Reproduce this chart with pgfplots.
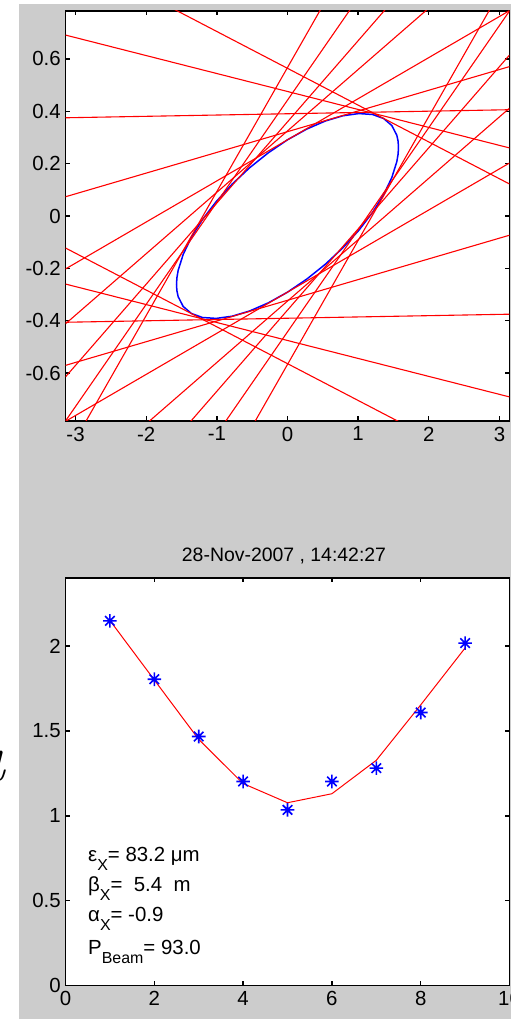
\documentclass[border=0pt]{standalone}
\usepackage{pgfplots}
\pgfplotsset{compat=1.18}
\usepackage{fontspec}
\setsansfont{Liberation Sans}
\renewcommand{\familydefault}{\sfdefault}
\definecolor{figgray}{gray}{0.8}
\definecolor{mred}{rgb}{1,0,0}
\definecolor{mblue}{rgb}{0,0,1}

% eight-spoke asterisk marker
\pgfdeclareplotmark{mstar}{%
  \pgfpathmoveto{\pgfqpoint{-\pgfplotmarksize}{0pt}}%
  \pgfpathlineto{\pgfqpoint{\pgfplotmarksize}{0pt}}%
  \pgfpathmoveto{\pgfqpoint{0pt}{-\pgfplotmarksize}}%
  \pgfpathlineto{\pgfqpoint{0pt}{\pgfplotmarksize}}%
  \pgfpathmoveto{\pgfqpoint{-0.7\pgfplotmarksize}{-0.7\pgfplotmarksize}}%
  \pgfpathlineto{\pgfqpoint{0.7\pgfplotmarksize}{0.7\pgfplotmarksize}}%
  \pgfpathmoveto{\pgfqpoint{-0.7\pgfplotmarksize}{0.7\pgfplotmarksize}}%
  \pgfpathlineto{\pgfqpoint{0.7\pgfplotmarksize}{-0.7\pgfplotmarksize}}%
  \pgfusepathqstroke}

\newcommand{\sub}[1]{\raisebox{-9bp}{\fontsize{16}{16}\selectfont #1}}

\pgfplotsset{
  matfig/.style={
    scale only axis, width=444bp,
    axis background/.style={fill=white},
    axis line style={black, line width=1.4bp},
    tick align=inside,
    xticklabel pos=lower, yticklabel pos=left,
    xtick pos=both, ytick pos=both,
    major tick length=4.5bp,
    every tick/.style={black, line width=1.4bp},
    tick label style={font=\fontsize{20.5}{24}\selectfont, black},
    yticklabel style={xshift=-1.2bp},
    xticklabel style={yshift=-2.3bp},
  },
  ray/.style={mred, line width=1.1bp},
}

\begin{document}
\begin{tikzpicture}
\begin{scope}
\clip (0,0) rectangle (511bp,1019bp);
\fill[white] (0,0) rectangle (511bp,1019bp);
\fill[figgray] (19bp,0) rectangle (511bp,1015bp);
\node[anchor=base east, inner sep=0] at (6bp,238bp)
  {\fontsize{70}{70}\selectfont\rmfamily\itshape a};

% phase-space plot: beam ellipse and measurement lines
\begin{axis}[matfig, at={(65.5bp,598bp)}, anchor=south west, height=410bp,
  xmin=-3.1424, xmax=3.1424, ymin=-0.783, ymax=0.783,
  xtick={-3,-2,-1,0,1,2,3}, xticklabels={-3,-2,-1,0,1,2,3},
  ytick={-0.6,-0.4,-0.2,0,0.2,0.4,0.6},
  yticklabels={-0.6,-0.4,-0.2,0,0.2,0.4,0.6}]
\addplot[mblue, line width=1.5bp] coordinates {
 (1.5712,0.2619) (1.5652,0.2355) (1.5473,0.2074) (1.4764,0.1466) (1.3607,0.0813)
 (1.2036,0.0136) (1.0100,-0.0546) (0.7856,-0.1211) (0.5374,-0.1839) (0.2728,-0.2411)
 (0,-0.2910) (-0.2728,-0.3320) (-0.5374,-0.3630) (-0.7856,-0.3829) (-1.0100,-0.3912)
 (-1.2036,-0.3877) (-1.3607,-0.3723) (-1.4764,-0.3456) (-1.5473,-0.3084) (-1.5652,-0.2862)
 (-1.5712,-0.2619) (-1.5652,-0.2355) (-1.5473,-0.2074) (-1.4764,-0.1466) (-1.3607,-0.0813)
 (-1.2036,-0.0136) (-1.0100,0.0546) (-0.7856,0.1211) (-0.5374,0.1839) (-0.2728,0.2411)
 (0,0.2910) (0.2728,0.3320) (0.5374,0.3630) (0.7856,0.3829) (1.0100,0.3912)
 (1.2036,0.3877) (1.3607,0.3723) (1.4764,0.3456) (1.5473,0.3084) (1.5652,0.2862)
 (1.5712,0.2619)};
\addplot[ray] coordinates {(-3.1416,1.0057) (3.1416,0.1223)};
\addplot[ray] coordinates {(-3.1416,-0.1223) (3.1416,-1.0057)};
\addplot[ray] coordinates {(-3.1416,0.691) (3.1416,0.260)};
\addplot[ray] coordinates {(-3.1416,-0.260) (3.1416,-0.691)};
\addplot[ray] coordinates {(-3.1416,0.3751) (3.1416,0.4059)};
\addplot[ray] coordinates {(-3.1416,-0.4059) (3.1416,-0.3751)};
\addplot[ray] coordinates {(-3.1416,0.0735) (3.1416,0.5705)};
\addplot[ray] coordinates {(-3.1416,-0.5705) (3.1416,-0.0735)};
\addplot[ray] coordinates {(-3.1416,-0.2022) (3.1416,0.7842)};
\addplot[ray] coordinates {(-3.1416,-0.7842) (3.1416,0.2022)};
\addplot[ray] coordinates {(-3.1416,-0.4117) (3.1416,1.0617)};
\addplot[ray] coordinates {(-3.1416,-1.0617) (3.1416,0.4117)};
\addplot[ray] coordinates {(-3.1416,-0.6144) (3.1416,1.3334)};
\addplot[ray] coordinates {(-3.1416,-1.3334) (3.1416,0.6144)};
\addplot[ray] coordinates {(-3.1416,-0.7827) (3.1416,1.6677)};
\addplot[ray] coordinates {(-3.1416,-1.6677) (3.1416,0.7827)};
\addplot[ray] coordinates {(-3.1416,-0.9205) (3.1416,2.0545)};
\addplot[ray] coordinates {(-3.1416,-2.0545) (3.1416,0.9205)};
\end{axis}

% beam size versus setting: measurement and fit
\begin{axis}[matfig, at={(65.5bp,33.3bp)}, anchor=south west, height=407.7bp,
  xmin=0, xmax=10, ymin=0, ymax=2.4,
  xtick={0,2,4,6,8,10}, xticklabels={0,2,4,6,8,10},
  ytick={0,0.5,1,1.5,2}, yticklabels={0,0.5,1,1.5,2}]
\addplot[mred, line width=1bp] coordinates {
 (1,2.150) (2,1.800) (3,1.450) (4,1.190) (5,1.077) (6,1.130) (7,1.327) (8,1.653) (9,1.988)};
\addplot[mblue, only marks, mark=mstar, mark size=6.8bp,
  mark options={line width=1.6bp}] coordinates {
 (1,2.148) (2,1.804) (3,1.467) (4,1.202) (5,1.035) (6,1.202) (7,1.281) (8,1.608) (9,2.017)};
\end{axis}

\node[anchor=base, inner sep=0] at (284bp,457.5bp)
  {\fontsize{19.5}{22}\selectfont 28-Nov-2007 , 14:42:27};
\begin{scope}[every node/.style={anchor=base west, inner sep=0,
    font=\fontsize{20.5}{24}\selectfont}]
\node at (88bp,157bp) {ε\sub{X}= 83.2 μm};
\node at (88bp,127.3bp) {β\sub{X}=\ \ 5.4\ \ m};
\node at (88bp,97.3bp) {α\sub{X}= -0.9};
\node at (88bp,64bp) {P\sub{Beam}= 93.0};
\end{scope}
\end{scope}
\pgfresetboundingbox
\useasboundingbox (0,0) rectangle (511bp,1019bp);
\end{tikzpicture}
\end{document}
